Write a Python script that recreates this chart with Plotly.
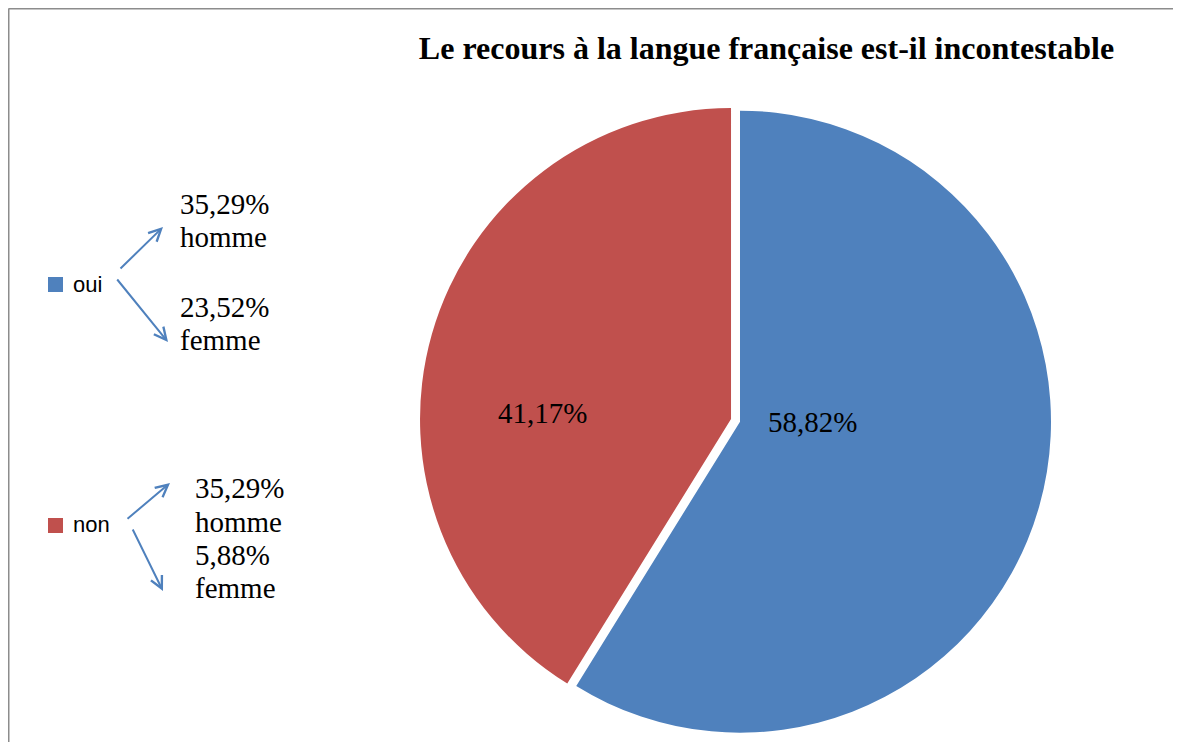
import plotly.graph_objects as go

# ---- data ----
categories = ["oui", "non"]
values = [58.82, 41.17]
homme_pct = [35.29, 35.29]
femme_pct = [23.52, 5.88]
slice_colors = ["#4F81BD", "#C0504D"]
title_text = "Le recours à la langue française est-il incontestable"

# page is offset by the default 8px body margin
OFF = 8
W, H = 1181 - OFF, 742 - OFF


def px(x):
    return (x - OFF) / W


def py(y):
    return 1 - (y - OFF) / H


def fr(v):
    return f"{v:.2f}".replace(".", ",") + "%"


# pie geometry (figure pixels)
R = 311
PULL = 0.03
half_box = R * (1 + PULL)
cx_fig = 740 - OFF
fig = go.Figure()
fig.add_trace(go.Pie(
    labels=categories,
    values=values,
    sort=False,
    direction="clockwise",
    rotation=0,
    pull=[0, PULL],
    marker=dict(colors=slice_colors, line=dict(width=0)),
    textinfo="none",
    domain=dict(x=[(cx_fig - 330) / W, (cx_fig + 330) / W], y=[0, 2 * half_box / H]),
    showlegend=False,
    hoverinfo="label+percent",
))

annotations = []
shapes = []

serif = dict(family="Liberation Serif", size=29, color="black")

# slice value labels
label_pos = [(812, 422), (542, 413)]
for v, (lx, ly) in zip(values, label_pos):
    annotations.append(dict(x=px(lx), y=py(ly), xref="paper", yref="paper",
                            text=fr(v), showarrow=False, xanchor="center",
                            yanchor="middle", font=serif))

# custom legend
legend_rows = [284.5, 525.5]
legend_text_y = [284, 524]
text_x = [178, 193]
sub_lines = [
    [(fr(homme_pct[0]), 204), ("homme", 237), (fr(femme_pct[0]), 307), ("femme", 340)],
    [(fr(homme_pct[1]), 488), ("homme", 522), (fr(femme_pct[1]), 555), ("femme", 588)],
]
arrows = [
    [((119, 270), (163, 227)), ((116, 278), (168, 342))],
    [((126, 520), (170, 483)), ((132, 528), (163, 591))],
]
for i, cat in enumerate(categories):
    yrow = legend_rows[i]
    shapes.append(dict(type="rect", xref="paper", yref="paper",
                       x0=px(48), x1=px(63), y0=py(yrow - 7.5), y1=py(yrow + 7.5),
                       fillcolor=slice_colors[i], line=dict(width=0)))
    annotations.append(dict(x=px(71), y=py(legend_text_y[i]), xref="paper", yref="paper",
                            text=cat, showarrow=False, xanchor="left", yanchor="middle",
                            font=dict(family="Liberation Sans", size=22, color="black")))
    for (tail, tip) in arrows[i]:
        annotations.append(dict(x=px(tip[0]), y=py(tip[1]), xref="paper", yref="paper",
                                ax=tail[0] - tip[0], ay=tail[1] - tip[1],
                                axref="pixel", ayref="pixel",
                                text="", showarrow=True, arrowhead=5, arrowsize=1.2,
                                arrowwidth=2, arrowcolor="#4F81BD", standoff=0))
    for txt, ty in sub_lines[i]:
        annotations.append(dict(x=px(text_x[i]), y=py(ty), xref="paper", yref="paper",
                                text=txt, showarrow=False, xanchor="left",
                                yanchor="middle", font=serif))

# frame lines (top and left)
shapes.append(dict(type="line", xref="paper", yref="paper", x0=0.0005, x1=1.0,
                   y0=1 - 0.5 / H, y1=1 - 0.5 / H, line=dict(color="#8C8C8C", width=2)))
shapes.append(dict(type="line", xref="paper", yref="paper", x0=0.5 / W, x1=0.5 / W,
                   y0=1 - 0.5 / H, y1=0, line=dict(color="#8C8C8C", width=2)))

fig.update_layout(
    width=W, height=H,
    margin=dict(l=0, r=0, t=0, b=0),
    paper_bgcolor="white", plot_bgcolor="white",
    separators=", ",
    title=dict(text=f"<b>{title_text}</b>", x=px(766.5), y=py(48),
               xanchor="center", yanchor="middle",
               font=dict(family="Liberation Serif", size=32, color="black")),
    annotations=annotations,
    shapes=shapes,
)

fig.write_html("out.html", config={"displayModeBar": False})
